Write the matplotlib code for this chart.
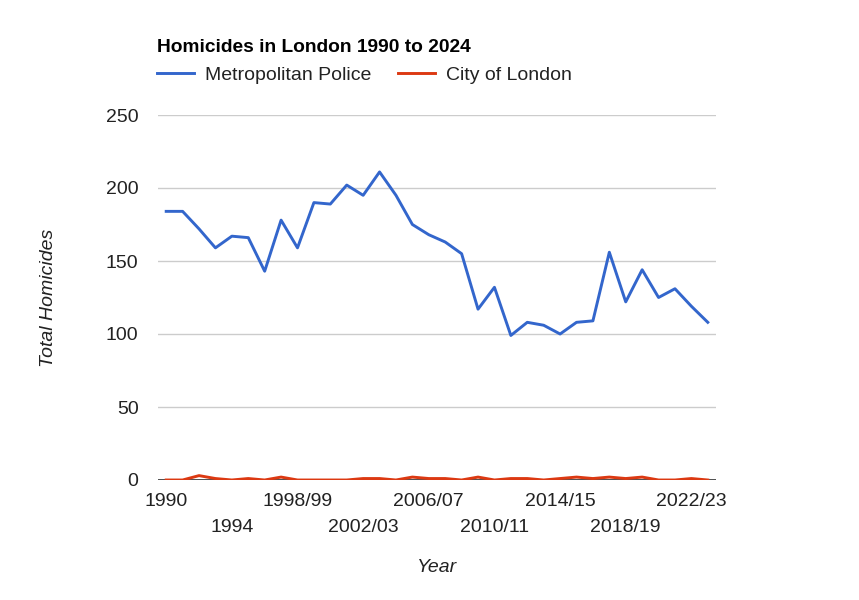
import matplotlib
matplotlib.use("Agg")
from matplotlib import pyplot as plt

plt.rcParams['font.family'] = ['Liberation Sans', 'DejaVu Sans']

years = [str(y) for y in range(1990, 1998)] + \
        [f"{y}/{str(y + 1)[2:]}" for y in range(1998, 2024)]
met_police = [184, 184, 172, 159, 167, 166, 143, 178, 159, 190,
              189, 202, 195, 211, 195, 175, 168, 163, 155, 117,
              132, 99, 108, 106, 100, 108, 109, 156, 122, 144,
              125, 131, 119, 108]
city_of_london = [0, 0, 3, 1, 0, 1, 0, 2, 0, 0,
                  0, 0, 1, 1, 0, 2, 1, 1, 0, 2,
                  0, 1, 1, 0, 1, 2, 1, 2, 1, 2,
                  0, 0, 1, 0]

x = list(range(len(years)))

fig = plt.figure(figsize=(8.59, 6.0), dpi=100)
ax = fig.add_axes([158 / 859, 1 - 480 / 600, 558 / 859, 365 / 600])

ax.plot(x, met_police, color='#3366cc', linewidth=2.1, label='Metropolitan Police', zorder=3)
ax.plot(x, city_of_london, color='#dc3912', linewidth=2.1, label='City of London', zorder=3)

ax.set_xlim(-0.5, len(years) - 0.5)
ax.set_ylim(0, 250)
ax.set_yticks(range(0, 251, 50))
ax.yaxis.grid(True, color='#cccccc', linewidth=1.0)
ax.set_axisbelow(True)
ax.axhline(0, color='#333333', linewidth=1.2, zorder=2)
for s in ax.spines.values():
    s.set_visible(False)

# staggered category labels, every 4th year
top_idx = list(range(0, len(years), 8))
bot_idx = list(range(4, len(years), 8))
ax.set_xticks(top_idx)
ax.set_xticklabels([years[i] for i in top_idx])
ax.set_xticks(bot_idx, minor=True)
ax.set_xticklabels([years[i] for i in bot_idx], minor=True)
ax.tick_params(axis='x', which='major', length=0, pad=9, labelsize=14, labelcolor='#222222')
ax.tick_params(axis='x', which='minor', length=0, pad=28, labelsize=14, labelcolor='#222222')
ax.tick_params(axis='y', length=0, pad=14, labelsize=14, labelcolor='#222222')

ax.set_xlabel('Year', fontstyle='italic', fontsize=14, color='#222222', labelpad=17)
ax.set_ylabel('Total Homicides', fontstyle='italic', fontsize=14, color='#222222', labelpad=35)

fig.text(157 / 859, 1 - 47 / 600, 'Homicides in London 1990 to 2024', fontsize=13.8,
         fontweight='bold', color='#000000', va='center', ha='left')
ax.legend(loc='lower left', bbox_to_anchor=(0.0, 1.0), ncol=2, frameon=False,
          fontsize=14, handlelength=1.9, handletextpad=0.55, columnspacing=1.4,
          borderaxespad=0, borderpad=0, labelcolor='#222222')
leg = ax.get_legend()
leg.set_bbox_to_anchor((157 / 859, 1 - 84 / 600), transform=fig.transFigure)

fig.savefig('out.png', dpi=100)
